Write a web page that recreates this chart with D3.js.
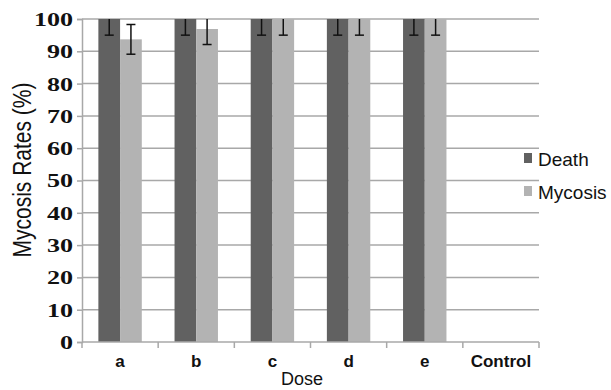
<!DOCTYPE html>
<html>
<head>
<meta charset="utf-8">
<script src="https://cdn.jsdelivr.net/npm/d3@7"></script>
<style>
  body { margin: 0; background: #fff; }
  svg { display: block; }
</style>
</head>
<body>
<div id="chart"></div>
<script>
// values
var doses = ["a", "b", "c", "d", "e", "Control"];
var series = ["Death", "Mycosis"];
var deathRates = [100, 100, 100, 100, 100, 0];
var deathErr = [5, 5, 5, 5, 5, 0];
var mycosisRates = [93.7, 96.9, 100, 100, 100, 0];
var mycosisErr = [4.6, 4.8, 5, 5, 5, 0];
var yTicks = [0, 10, 20, 30, 40, 50, 60, 70, 80, 90, 100];

var colors = { Death: "#616161", Mycosis: "#b3b3b3" };
var gridColor = "#a8a8a8";

var width = 611, height = 390;
var margin = { top: 19, right: 72, bottom: 48, left: 82 };
var plotW = width - margin.left - margin.right,
    plotH = height - margin.top - margin.bottom;

var rows = doses.map(function (d, i) {
    return {
        dose: d,
        vals: [
            { key: "Death", value: deathRates[i], err: deathErr[i] },
            { key: "Mycosis", value: mycosisRates[i], err: mycosisErr[i] }
        ]
    };
});

var svg = d3.select("#chart").append("svg")
    .attr("width", width)
    .attr("height", height);

var g = svg.append("g")
    .attr("transform", "translate(" + margin.left + "," + margin.top + ")");

var x0 = d3.scaleBand().domain(doses).range([0, plotW]).paddingInner(0).paddingOuter(0);
var bw = x0.bandwidth();
var x1 = d3.scaleBand().domain(series).range([bw * 0.215, bw * 0.785]);
var y = d3.scaleLinear().domain([0, 100]).range([plotH, 0]);

svg.append("defs").append("clipPath").attr("id", "plotclip")
    .append("rect").attr("x", 0).attr("y", 0).attr("width", plotW).attr("height", plotH + 1);

// gridlines
g.append("g")
    .selectAll("line")
    .data(yTicks.filter(function (t) { return t > 0; }))
    .enter().append("line")
    .attr("x1", 0).attr("x2", plotW)
    .attr("y1", function (d) { return y(d); })
    .attr("y2", function (d) { return y(d); })
    .attr("stroke", gridColor)
    .attr("stroke-width", 1.5);

// bars
var groups = g.append("g").attr("clip-path", "url(#plotclip)")
    .selectAll("g.grp")
    .data(rows)
    .enter().append("g")
    .attr("class", "grp")
    .attr("transform", function (d) { return "translate(" + x0(d.dose) + ",0)"; });

groups.selectAll("rect")
    .data(function (d) { return d.vals; })
    .enter().append("rect")
    .attr("x", function (d) { return x1(d.key); })
    .attr("width", x1.bandwidth())
    .attr("y", function (d) { return y(d.value); })
    .attr("height", function (d) { return plotH - y(d.value); })
    .attr("fill", function (d) { return colors[d.key]; });

// error bars (the part above 100 is clipped like in the original)
var eb = groups.selectAll("g.err")
    .data(function (d) { return d.vals.filter(function (v) { return v.err > 0; }); })
    .enter().append("g")
    .attr("class", "err")
    .attr("stroke", "#111")
    .attr("stroke-width", 1.5);

var capHalf = 4.5;
function midX(d) { return x1(d.key) + x1.bandwidth() / 2; }
eb.append("line")
    .attr("x1", midX).attr("x2", midX)
    .attr("y1", function (d) { return y(d.value + d.err); })
    .attr("y2", function (d) { return y(d.value - d.err); });
eb.append("line")
    .attr("x1", function (d) { return midX(d) - capHalf; })
    .attr("x2", function (d) { return midX(d) + capHalf; })
    .attr("y1", function (d) { return y(d.value + d.err); })
    .attr("y2", function (d) { return y(d.value + d.err); });
eb.append("line")
    .attr("x1", function (d) { return midX(d) - capHalf; })
    .attr("x2", function (d) { return midX(d) + capHalf; })
    .attr("y1", function (d) { return y(d.value - d.err); })
    .attr("y2", function (d) { return y(d.value - d.err); });

// y axis
var yAxis = d3.axisLeft(y).tickValues(yTicks).tickSize(5).tickPadding(0);
var ya = g.append("g").call(yAxis);
ya.select(".domain").attr("stroke", gridColor).attr("stroke-width", 1.5);
ya.selectAll(".tick line").attr("stroke", gridColor).attr("stroke-width", 1.5);
ya.selectAll(".tick text")
    .attr("x", -9 / 1.45)
    .attr("dy", "0.36em")
    .attr("transform", "scale(1.45,1)")
    .style("font-family", "'Liberation Serif', 'Times New Roman', serif")
    .style("font-weight", "bold")
    .style("font-size", "18px")
    .attr("fill", "#111");

// x axis with ticks at band edges
var xa = g.append("g").attr("transform", "translate(0," + plotH + ")");
xa.append("line").attr("x1", 0).attr("x2", plotW)
    .attr("stroke", gridColor).attr("stroke-width", 1.5);
var edges = doses.map(function (d) { return x0(d); }).concat([plotW]);
xa.selectAll("line.edge")
    .data(edges)
    .enter().append("line")
    .attr("class", "edge")
    .attr("x1", function (d) { return d; }).attr("x2", function (d) { return d; })
    .attr("y1", 0).attr("y2", 6)
    .attr("stroke", gridColor).attr("stroke-width", 1.5);
xa.selectAll("text")
    .data(doses)
    .enter().append("text")
    .attr("x", function (d) { return x0(d) + bw / 2; })
    .attr("y", 25)
    .attr("text-anchor", "middle")
    .style("font-family", "'Liberation Sans', Arial, sans-serif")
    .style("font-weight", "bold")
    .style("font-size", "17px")
    .attr("fill", "#111")
    .text(function (d) { return d; });

// axis titles
svg.append("text")
    .attr("x", 302).attr("y", 385)
    .attr("text-anchor", "middle")
    .style("font-family", "'Liberation Sans', Arial, sans-serif")
    .style("font-size", "18px")
    .attr("fill", "#111")
    .text("Dose");

svg.append("text")
    .attr("transform", "translate(31,170) scale(1.25,1) rotate(-90)")
    .attr("text-anchor", "middle")
    .style("font-family", "'Liberation Sans', Arial, sans-serif")
    .style("font-size", "21px")
    .attr("fill", "#111")
    .text("Mycosis Rates (%)");

// legend
var legend = svg.append("g").attr("transform", "translate(524,153)");
var li = legend.selectAll("g")
    .data(series)
    .enter().append("g")
    .attr("transform", function (d, i) { return "translate(0," + (i * 33) + ")"; });
li.append("rect").attr("width", 8).attr("height", 10)
    .attr("fill", function (d) { return colors[d]; });
li.append("text")
    .attr("x", 14).attr("y", 13)
    .style("font-family", "'Liberation Sans', Arial, sans-serif")
    .style("font-size", "19px")
    .attr("fill", "#111")
    .text(function (d) { return d; });
</script>
</body>
</html>
